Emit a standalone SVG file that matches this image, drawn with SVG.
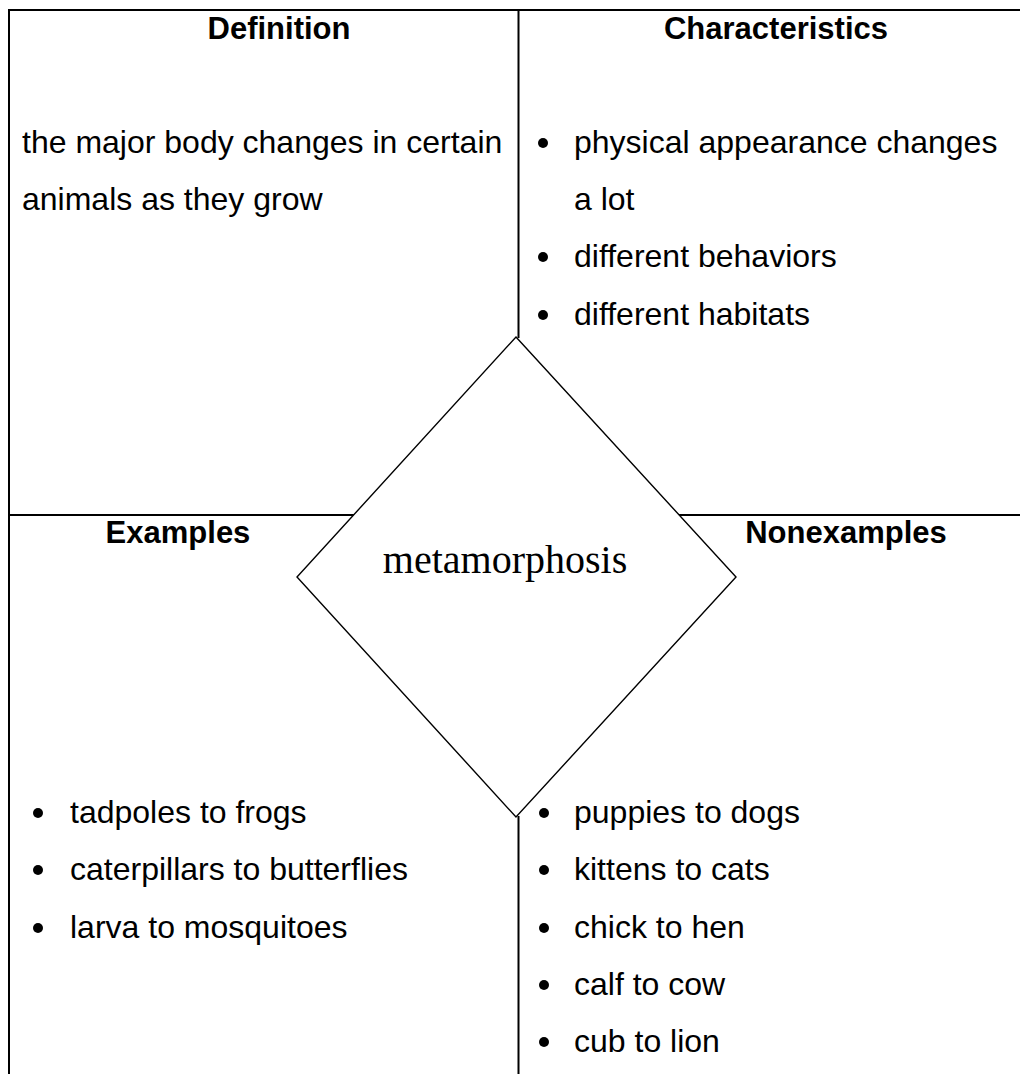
<svg xmlns="http://www.w3.org/2000/svg" width="1020" height="1074" viewBox="0 0 1020 1074">
  <style>
    .rule { stroke: #000; stroke-width: 2; fill: none; }
    .diamond { stroke: #000; stroke-width: 1.4; fill: #fff; }
    .head { font-family: "Liberation Sans", Arial, sans-serif; font-weight: bold; font-size: 31px; fill: #000; }
    .body { font-family: "Liberation Sans", Arial, sans-serif; font-size: 32px; fill: #000; }
    .term { font-family: "Liberation Serif", "Times New Roman", serif; font-size: 40px; fill: #000; }
    .dot { fill: #000; }
  </style>

  <!-- table grid -->
  <g id="connectors">
    <line class="rule" x1="8" y1="10" x2="1020" y2="10"/>
    <line class="rule" x1="9" y1="9" x2="9" y2="1074"/>
    <line class="rule" x1="518.5" y1="10" x2="518.5" y2="338"/>
    <line class="rule" x1="518.5" y1="816" x2="518.5" y2="1074"/>
    <line class="rule" x1="9" y1="515" x2="354" y2="515"/>
    <line class="rule" x1="678" y1="515" x2="1020" y2="515"/>
  </g>

  <!-- Definition cell -->
  <g id="definition">
    <text class="head" x="279" y="39" text-anchor="middle">Definition</text>
    <text class="body" x="22" y="153">the major body changes in certain</text>
    <text class="body" x="22" y="210">animals as they grow</text>
  </g>

  <!-- Characteristics cell -->
  <g id="characteristics">
    <text class="head" x="776" y="39" text-anchor="middle">Characteristics</text>
    <circle class="dot" cx="543" cy="143" r="5"/>
    <text class="body" x="574" y="153">physical appearance changes</text>
    <text class="body" x="574" y="210">a lot</text>
    <circle class="dot" cx="543" cy="257" r="5"/>
    <text class="body" x="574" y="267">different behaviors</text>
    <circle class="dot" cx="543" cy="315" r="5"/>
    <text class="body" x="574" y="325">different habitats</text>
  </g>

  <!-- Examples cell -->
  <g id="examples">
    <text class="head" x="178" y="543" text-anchor="middle">Examples</text>
    <circle class="dot" cx="38" cy="813" r="5"/>
    <text class="body" x="70" y="823">tadpoles to frogs</text>
    <circle class="dot" cx="38" cy="870" r="5"/>
    <text class="body" x="70" y="880">caterpillars to butterflies</text>
    <circle class="dot" cx="38" cy="928" r="5"/>
    <text class="body" x="70" y="938">larva to mosquitoes</text>
  </g>

  <!-- Nonexamples cell -->
  <g id="nonexamples">
    <text class="head" x="846" y="543" text-anchor="middle">Nonexamples</text>
    <circle class="dot" cx="544" cy="813" r="5"/>
    <text class="body" x="574" y="823">puppies to dogs</text>
    <circle class="dot" cx="544" cy="870" r="5"/>
    <text class="body" x="574" y="880">kittens to cats</text>
    <circle class="dot" cx="544" cy="928" r="5"/>
    <text class="body" x="574" y="938">chick to hen</text>
    <circle class="dot" cx="544" cy="985" r="5"/>
    <text class="body" x="574" y="995">calf to cow</text>
    <circle class="dot" cx="544" cy="1042" r="5"/>
    <text class="body" x="574" y="1052">cub to lion</text>
  </g>

  <!-- central term -->
  <g id="term">
    <polygon class="diamond" points="516,337 736,577 516,817 297,577"/>
    <text class="term" x="505" y="573" text-anchor="middle">metamorphosis</text>
  </g>
</svg>
